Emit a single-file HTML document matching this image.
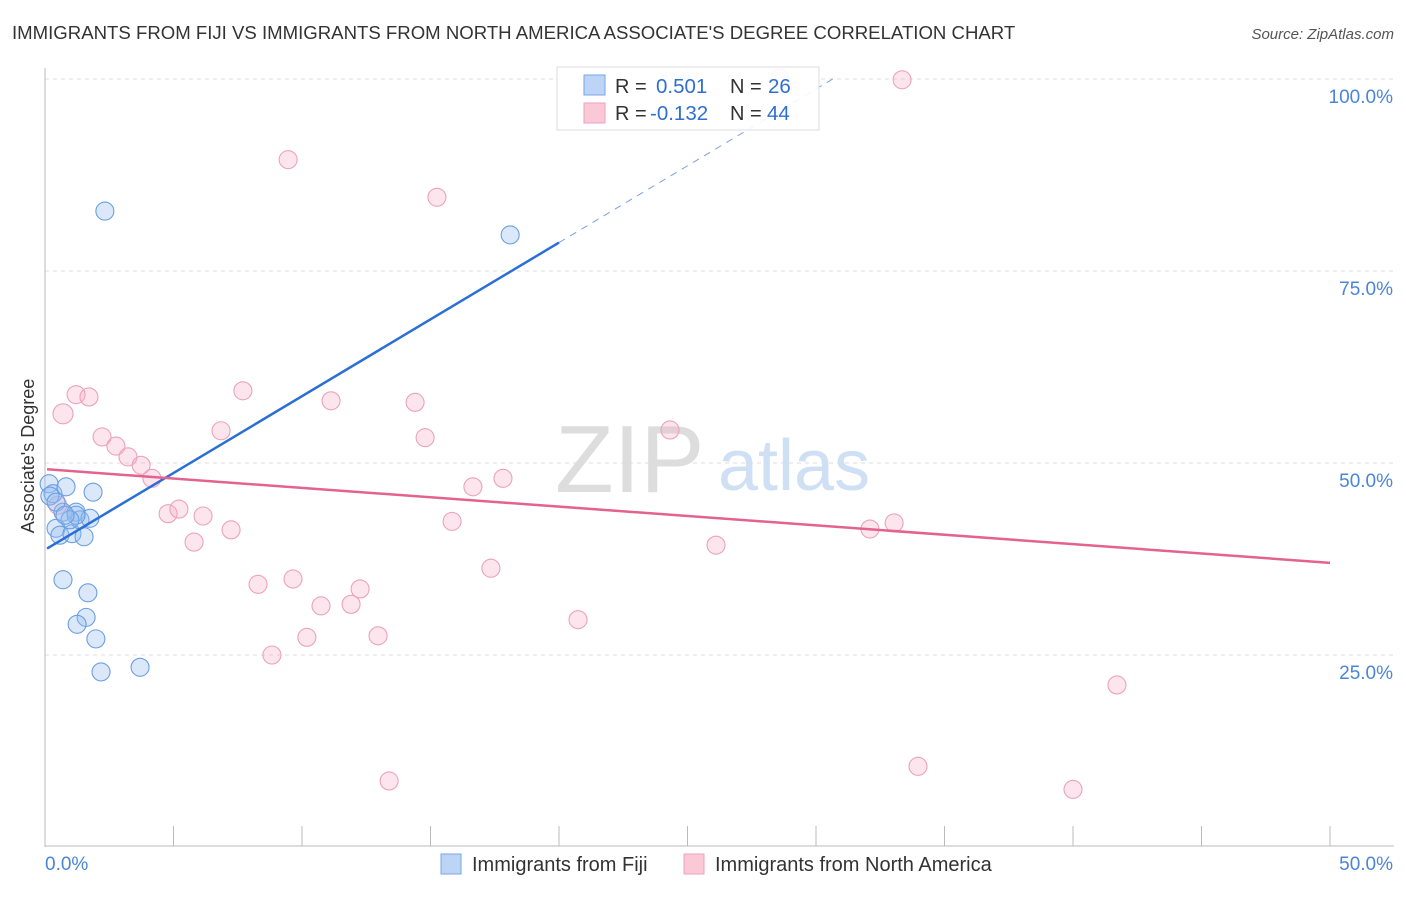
<!DOCTYPE html>
<html><head><meta charset="utf-8"><style>
body{margin:0;background:#fff;font-family:"Liberation Sans",sans-serif;}
svg text{font-family:"Liberation Sans",sans-serif;}
</style></head><body>
<svg width="1406" height="892" xmlns="http://www.w3.org/2000/svg">
<text x="12" y="39" font-size="18.6" fill="#333">IMMIGRANTS FROM FIJI VS IMMIGRANTS FROM NORTH AMERICA ASSOCIATE'S DEGREE CORRELATION CHART</text>
<text x="1394" y="39" font-size="15" fill="#555" font-style="italic" text-anchor="end">Source: ZipAtlas.com</text>
<g id="grid"></g>
<g id="axes"></g>
<text x="555" y="492" font-size="96" fill="#ddd" font-family="Liberation Serif">ZIP</text>
<text x="718" y="490" font-size="72" fill="#cfe0f5">atlas</text>
<g id="pts"></g>
<g id="lines"></g>
<g>
<rect x="557" y="67" width="262" height="63" fill="rgba(255,255,255,0.9)" stroke="#ddd"/>
<rect x="584" y="75" width="21" height="20" fill="#bcd4f6" stroke="#7aa6e6"/>
<rect x="584" y="103" width="21" height="20" fill="#fbc8d8" stroke="#eea0bb"/>
<text x="615" y="93" font-size="20" fill="#333">R =</text>
<text x="656" y="93" font-size="20.5" fill="#2f6fd1">0.501</text>
<text x="730" y="93" font-size="20" fill="#333">N =</text>
<text x="768" y="93" font-size="20.5" fill="#2f6fd1">26</text>
<text x="615" y="120" font-size="20" fill="#333">R =</text>
<text x="650" y="120" font-size="20.5" fill="#2f6fd1">-0.132</text>
<text x="730" y="120" font-size="20" fill="#333">N =</text>
<text x="767" y="120" font-size="20.5" fill="#2f6fd1">44</text>
</g>
<g>
<rect x="441" y="854" width="20" height="20" fill="#bcd4f6" stroke="#7aa6e6"/>
<text x="472" y="871" font-size="20" fill="#333">Immigrants from Fiji</text>
<rect x="684" y="854" width="20" height="20" fill="#fbc8d8" stroke="#eea0bb"/>
<text x="715" y="871" font-size="20" fill="#333">Immigrants from North America</text>
</g>
<text transform="translate(34,456) rotate(-90)" font-size="18" fill="#333" text-anchor="middle">Associate's Degree</text>
</svg>
<script>
const yTicks=[25,50,75,100];
const yTickLabels=["25.0%","50.0%","75.0%","100.0%"];
const xEndLabels=["0.0%","50.0%"];
const fijiX=[0.16,0.31,0.82,1.87,0.43,0.58,0.70,1.05,1.21,1.36,1.52,1.75,1.21,0.70,1.67,1.60,1.25,1.98,2.18,3.70,2.33,18.1,0.19,0.97,0.43,0.78];
const fijiY=[47.3,46.0,46.9,46.2,41.5,40.6,43.6,40.8,43.6,42.6,40.4,42.8,43.2,34.8,33.1,29.9,29.0,27.1,22.8,23.4,82.8,79.7,45.7,42.6,44.9,43.2];
const naX=[0.70,1.21,1.71,2.22,2.76,3.23,3.74,4.16,4.79,5.21,6.15,5.80,7.24,6.85,7.70,8.29,8.83,9.65,10.19,10.74,11.13,11.91,12.26,12.96,13.39,14.40,14.79,15.25,9.46,15.84,16.65,17.35,17.82,20.74,24.32,26.11,32.1,33.04,33.35,33.97,40.0,41.71,28.6,0.5];
const naY=[56.4,58.9,58.6,53.4,52.2,50.8,49.7,48.0,43.4,44.0,43.1,39.7,41.3,54.2,59.4,34.2,25.0,34.9,27.3,31.4,58.1,31.6,33.6,27.5,8.6,57.9,53.3,84.6,89.5,42.4,46.9,36.3,48.0,29.6,54.3,39.3,41.4,42.2,99.9,10.5,7.5,21.1,100.1,44.5];
const fijiFit=[38.7,2.0];
const naFit=[49.2,-0.244];
const NS="http://www.w3.org/2000/svg";
const X=v=>45+v*25.7, Y=v=>847-v*7.68;
function mk(t,a,p){const e=document.createElementNS(NS,t);for(const k in a)e.setAttribute(k,a[k]);p.appendChild(e);return e;}
const grid=document.getElementById('grid'),axes=document.getElementById('axes');
yTicks.forEach((t,i)=>{
 const l=mk('line',{x1:45,x2:1394,y1:Y(t),y2:Y(t),stroke:'#ddd','stroke-dasharray':'4,4'},grid);
 
 
 const tx=mk('text',{x:1393,y:Y(t)+24,'font-size':19,fill:'#4a85d8','text-anchor':'end'},axes);
 tx.textContent=yTickLabels[i];
 
 
});
mk('line',{x1:45,x2:45,y1:68,y2:847,stroke:'#bbb'},axes);
mk('line',{x1:45,x2:1394,y1:846,y2:846,stroke:'#bbb'},axes);
for(let i=1;i<=10;i++){const t=mk('line',{x1:X(i*5),x2:X(i*5),y1:826,y2:846,stroke:'#bbb'},axes);
 
 }
const a0=mk('text',{x:45,y:870,'font-size':19,fill:'#4a85d8'},axes);a0.textContent=xEndLabels[0];


const a1=mk('text',{x:1393,y:870,'font-size':19,fill:'#4a85d8','text-anchor':'end'},axes);a1.textContent=xEndLabels[1];


const pts=document.getElementById('pts');
naX.forEach((x,i)=>{const c=mk('circle',{cx:X(x),cy:Y(naY[i]),r:i==0?10:9,fill:'rgba(247,170,196,0.3)',stroke:'#eca2bc','stroke-width':1.1},pts);
 
 });
fijiX.forEach((x,i)=>{const c=mk('circle',{cx:X(x),cy:Y(fijiY[i]),r:9,fill:'rgba(150,188,240,0.35)',stroke:'#6b9fe2','stroke-width':1.1},pts);
 
 });
const lines=document.getElementById('lines');
const f=v=>fijiFit[0]+fijiFit[1]*v, g=v=>naFit[0]+naFit[1]*v;
const xEnd=(100-fijiFit[0])/fijiFit[1];
let l1=mk('line',{x1:X(0.08),y1:Y(f(0.08)),x2:X(20),y2:Y(f(20)),stroke:'#2a6fd6','stroke-width':2.5},lines);


let l2=mk('line',{x1:X(20),y1:Y(f(20)),x2:X(xEnd),y2:Y(100),stroke:'#7aa0dd','stroke-width':1,'stroke-dasharray':'7,6'},lines);


let l3=mk('line',{x1:X(0.08),y1:Y(g(0.08)),x2:X(50),y2:Y(g(50)),stroke:'#e3628f','stroke-width':2.5},lines);


</script>
</body></html>
